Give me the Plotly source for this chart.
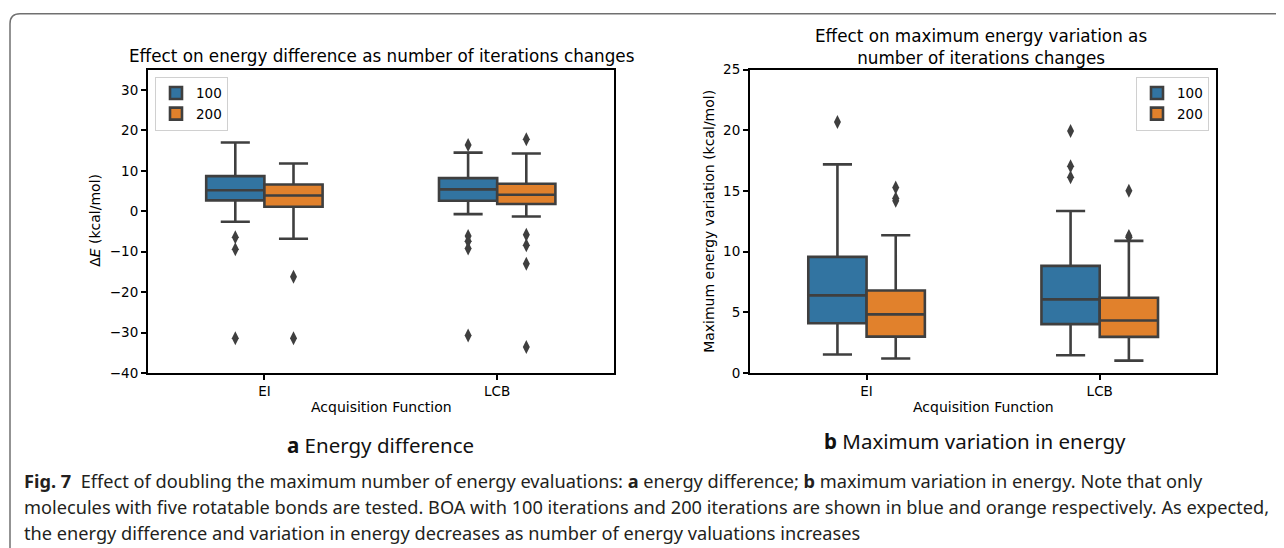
import plotly.graph_objects as go

# The page adds an 8px body margin on the left, so the figure is narrowed
# and reference pixel positions are mapped onto figure coordinates.
PAGE_W, PAGE_H, BODY = 1284, 548, 8
W, H = PAGE_W - 2 * BODY, PAGE_H
Y_OFF, Y_SCALE = 15.3, 0.97

categories = ["EI", "LCB"]
series_names = ["100", "200"]
series_colors = ["#3274a1", "#e1812c"]
line_color = "#3f3f3f"

# ---- Panel a: energy difference (kcal/mol) ----
de_100_lower = [-2.6, -0.7]
de_100_q1 = [2.7, 2.6]
de_100_median = [5.2, 5.4]
de_100_q3 = [8.7, 8.2]
de_100_upper = [17.0, 14.5]
de_100_outliers = [[-6.4, -9.4, -31.4], [16.4, -6.1, -7.4, -9.2, -30.7]]

de_200_lower = [-6.8, -1.3]
de_200_q1 = [1.1, 1.8]
de_200_median = [3.9, 4.1]
de_200_q3 = [6.6, 6.8]
de_200_upper = [11.8, 14.3]
de_200_outliers = [[-16.2, -31.4], [17.8, -5.8, -8.4, -13.0, -33.6]]

# ---- Panel b: maximum energy variation (kcal/mol) ----
mv_100_lower = [1.52, 1.46]
mv_100_q1 = [4.1, 4.03]
mv_100_median = [6.4, 6.07]
mv_100_q3 = [9.57, 8.83]
mv_100_upper = [17.2, 13.35]
mv_100_outliers = [[20.7], [19.96, 17.04, 16.13]]

mv_200_lower = [1.19, 1.02]
mv_200_q1 = [3.0, 2.98]
mv_200_median = [4.83, 4.33]
mv_200_q3 = [6.8, 6.2]
mv_200_upper = [11.36, 10.89]
mv_200_outliers = [[15.3, 14.4, 14.2], [15.03, 11.3, 11.2]]

de_ticks = [-40, -30, -20, -10, 0, 10, 20, 30]
de_ticklabels = ["\u221240", "\u221230", "\u221220", "\u221210", "0", "10", "20", "30"]
mv_ticks = [0, 5, 10, 15, 20, 25]
mv_ticklabels = ["0", "5", "10", "15", "20", "25"]

title_a = "Effect on energy difference as number of iterations changes"
title_b = "Effect on maximum energy variation as<br>number of iterations changes"
ylabel_a = "\u0394<i>E</i> (kcal/mol)"
ylabel_b = "Maximum energy variation (kcal/mol)"
xlabel = "Acquisition Function"
caption_a = "<b>a</b> Energy difference"
caption_b = "<b>b</b> Maximum variation in energy"
caption_lines = [
    "<b>Fig. 7</b>  Effect of doubling the maximum number of energy evaluations: <b>a</b> energy difference; <b>b</b> maximum variation in energy. Note that only",
    "molecules with five rotatable bonds are tested. BOA with 100 iterations and 200 iterations are shown in blue and orange respectively. As expected,",
    "the energy difference and variation in energy decreases as number of energy valuations increases",
]

BOXGAP = 0.5
half_offset = (1 - BOXGAP) / 4.0  # centre offset of each hue box from category position
FONT = "DejaVu Sans"


def px(x):
    return (x - BODY) / W


def py(y):
    return 1 - ((y - Y_OFF) / Y_SCALE) / H


fig = go.Figure()

panels = [
    ("x", "y", "legend",
     [(de_100_lower, de_100_q1, de_100_median, de_100_q3, de_100_upper, de_100_outliers),
      (de_200_lower, de_200_q1, de_200_median, de_200_q3, de_200_upper, de_200_outliers)]),
    ("x2", "y2", "legend2",
     [(mv_100_lower, mv_100_q1, mv_100_median, mv_100_q3, mv_100_upper, mv_100_outliers),
      (mv_200_lower, mv_200_q1, mv_200_median, mv_200_q3, mv_200_upper, mv_200_outliers)]),
]

cat_pos = list(range(len(categories)))

for xa, ya, leg, series in panels:
    for si, (lo, q1, med, q3, up, outs) in enumerate(series):
        fig.add_trace(go.Box(
            x=cat_pos, q1=q1, median=med, q3=q3, lowerfence=lo, upperfence=up,
            name=series_names[si], fillcolor=series_colors[si],
            line=dict(color=line_color, width=2.6), whiskerwidth=0.5,
            boxpoints=False, xaxis=xa, yaxis=ya, legend=leg, offsetgroup=str(si),
            hoverinfo="skip",
        ))
    for si, (lo, q1, med, q3, up, outs) in enumerate(series):
        sign = -1 if si == 0 else 1
        ox, oy = [], []
        for ci, vals in enumerate(outs):
            for v in vals:
                ox.append(cat_pos[ci] + sign * half_offset)
                oy.append(v)
        fig.add_trace(go.Scatter(
            x=ox, y=oy, mode="markers", showlegend=False,
            marker=dict(symbol="diamond-tall", size=10, color=line_color,
                        line=dict(width=0)),
            xaxis=xa, yaxis=ya, hoverinfo="skip",
        ))

ax_common = dict(showline=True, linecolor="black", linewidth=2, mirror=True,
                 ticks="outside", ticklen=5, tickwidth=1.5, tickcolor="black",
                 showgrid=False, zeroline=False,
                 tickfont=dict(family=FONT, size=13.5, color="black"))

y_top, y_bot = py(69), py(372)
fig.update_layout(
    width=W, height=H, margin=dict(l=0, r=0, t=0, b=0),
    paper_bgcolor="white", plot_bgcolor="white",
    boxmode="group", boxgap=BOXGAP, boxgroupgap=0,
    xaxis=dict(domain=[px(148), px(613.6)], range=[-0.5, 1.5], tickvals=cat_pos,
               ticktext=categories, anchor="y", **ax_common),
    yaxis=dict(domain=[y_bot, y_top], range=[-40, 35], tickvals=de_ticks,
               ticktext=de_ticklabels, anchor="x", **ax_common),
    xaxis2=dict(domain=[px(750), px(1216.3)], range=[-0.5, 1.5], tickvals=cat_pos,
                ticktext=categories, anchor="y2", **ax_common),
    yaxis2=dict(domain=[y_bot, y_top], range=[0, 25], tickvals=mv_ticks,
                ticktext=mv_ticklabels, anchor="x2", **ax_common),
    legend=dict(x=px(155), y=py(76), xanchor="left", yanchor="top",
                bgcolor="white", bordercolor="#d0d0d0", borderwidth=1,
                font=dict(family=FONT, size=13.5, color="black"),
                tracegroupgap=0, itemwidth=30),
    legend2=dict(x=px(1209), y=py(76), xanchor="right", yanchor="top",
                 bgcolor="white", bordercolor="#d0d0d0", borderwidth=1,
                 font=dict(family=FONT, size=13.5, color="black"),
                 tracegroupgap=0, itemwidth=30),
    showlegend=True,
)

annotations = [
    dict(text=title_a, x=px(381), y=py(55), font=dict(family=FONT, size=16.8, color="black")),
    dict(text=title_b, x=px(981), y=py(46), font=dict(family=FONT, size=16.8, color="black")),
    dict(text=xlabel, x=px(381), y=py(406), font=dict(family=FONT, size=14, color="black")),
    dict(text=xlabel, x=px(983), y=py(406), font=dict(family=FONT, size=14, color="black")),
    dict(text=ylabel_a, x=px(95), y=py(220), textangle=-90, font=dict(family=FONT, size=14, color="black")),
    dict(text=ylabel_b, x=px(709), y=py(221), textangle=-90, font=dict(family=FONT, size=14, color="black")),
    dict(text=caption_a, x=px(380), y=py(444), font=dict(family="Noto Sans", size=20.5, color="#111111")),
    dict(text=caption_b, x=px(975), y=py(440), font=dict(family="Noto Sans", size=20.5, color="#111111")),
]
for i, line in enumerate(caption_lines):
    annotations.append(dict(text=line, x=px(22), y=py(480 + 26 * i), xanchor="left",
                            font=dict(family="Noto Sans", size=18.2, color="#231f20")))
for a in annotations:
    a.setdefault("xanchor", "center")
    a.update(xref="paper", yref="paper", yanchor="middle", showarrow=False)
fig.update_layout(annotations=annotations)

# rounded border of the figure box
x0, y0, r = 10, 13, 10
path = (f"M {px(x0)},{py(PAGE_H + 40)} L {px(x0)},{py(y0 + r)} "
        f"Q {px(x0)},{py(y0)} {px(x0 + r)},{py(y0)} L {px(PAGE_W + 20)},{py(y0)}")
fig.add_shape(type="path", path=path, xref="paper", yref="paper",
              line=dict(color="#707070", width=1.5), layer="above")

fig.write_html("out.html")
